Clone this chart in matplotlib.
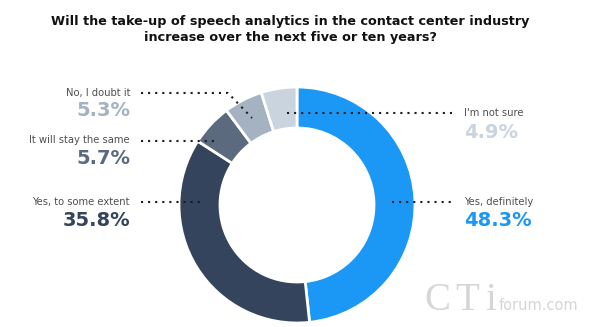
import matplotlib.pyplot as plt

# dane z wykresu
kategorie = ['Yes, definitely', 'Yes, to some extent', 'It will stay the same', 'No, I doubt it', "I'm not sure"]
procenty = [48.3, 35.8, 5.7, 5.3, 4.9]
kolory = ['#1b98f5', '#33445c', '#5b6a7f', '#a4b2c2', '#c9d4df']

H = 327
fig = plt.figure(figsize=(6, 3.27), dpi=100)
ax = fig.add_axes([0, 0, 1, 1])

cx, cy, r = 297, H - 205, 118
ax.pie(procenty, colors=kolory, startangle=90, counterclock=False,
       center=(cx, cy), radius=r, frame=True,
       wedgeprops=dict(width=41, edgecolor='white', linewidth=2))
ax.set_xlim(0, 600)
ax.set_ylim(0, H)
ax.set_aspect('equal')
ax.axis('off')

fig.text(290 / 600, 1 - 29.5 / H, 'Will the take-up of speech analytics in the contact center industry\nincrease over the next five or ten years?',
         ha='center', va='center', fontsize=9.2, fontweight='bold', color='#111111', linespacing=1.35)

# etykiety: (x, y tekstu, y procentu, wyrównanie)
pozycje = {
    'Yes, definitely': (464, 202, 221, 'left'),
    'Yes, to some extent': (130, 202, 221, 'right'),
    'It will stay the same': (130, 140, 158, 'right'),
    'No, I doubt it': (130, 93, 111, 'right'),
    "I'm not sure": (464, 113, 132, 'left'),
}
for kat, p, kol in zip(kategorie, procenty, kolory):
    x, yt, yp, ha = pozycje[kat]
    ax.text(x, H - yt, kat, ha=ha, va='center', fontsize=7.2, color='#505050')
    ax.text(x, H - yp, f'{p}%', ha=ha, va='center', fontsize=14, fontweight='bold', color=kol)

# linie kropkowane
linie = [
    ([392, 452], [202, 202]),
    ([141, 203], [202, 202]),
    ([141, 218], [141, 141]),
    ([141, 228, 252], [93, 93, 118]),
    ([287, 452], [113, 113]),
]
for xs, ys in linie:
    ax.plot(xs, [H - y for y in ys], color='#1a1a1a', linestyle=(0, (1, 2.4)), linewidth=1.5, zorder=5)

# znak wodny
for lit, xl in [('C', 424), ('T', 455), ('i', 485)]:
    ax.text(xl, H - 310, lit, fontsize=28, family='Liberation Serif', color='#d6d6d6', va='baseline')
ax.text(499, H - 310, 'forum.com', fontsize=10.5, color='#d6d6d6', va='baseline')

plt.savefig('out.png', dpi=100)
